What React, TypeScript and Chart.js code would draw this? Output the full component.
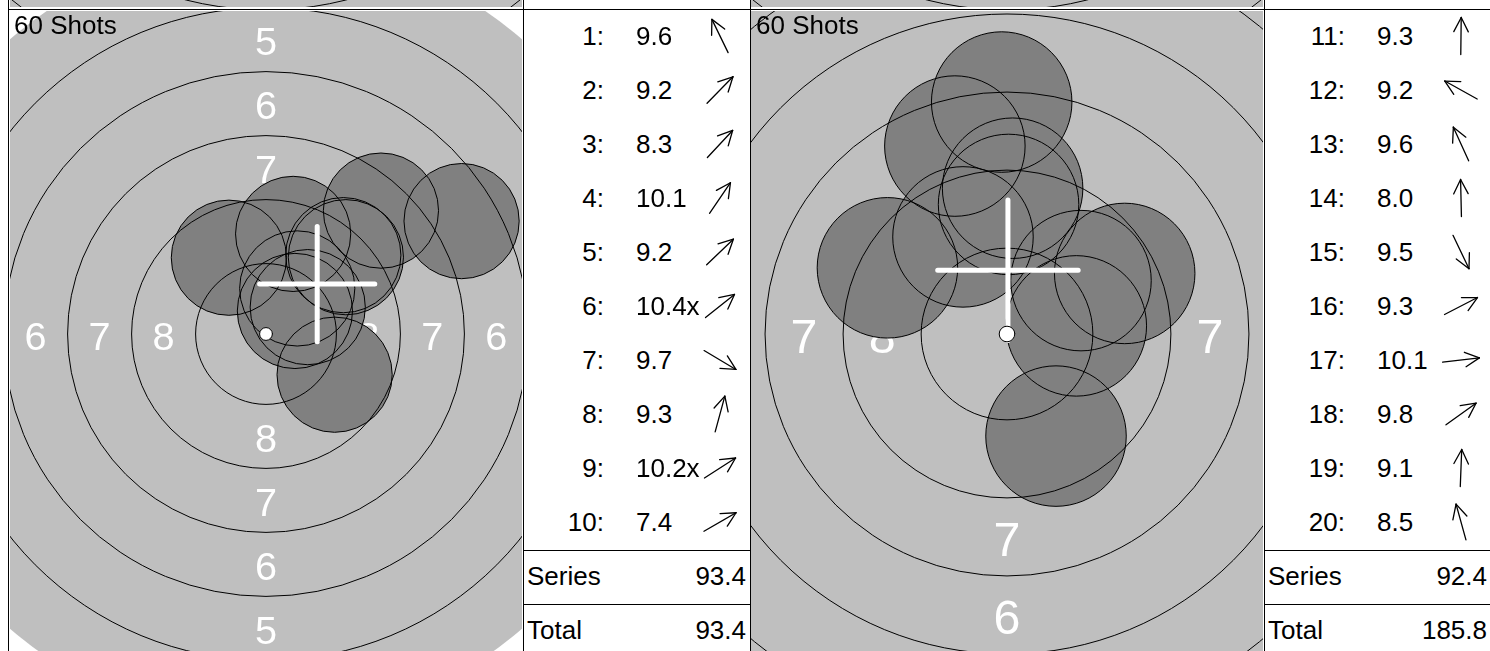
import React, { useEffect, useRef } from "react";
import { Chart, registerables } from "chart.js";

Chart.register(...registerables);

const FONT = '"Liberation Sans", Arial, Helvetica, sans-serif';

// ---- 10 m air rifle target geometry (mm) ----
const ringValues = [1, 2, 3, 4, 5, 6, 7, 8, 9, 10];
const ringRadiiMm = [22.75, 20.25, 17.75, 15.25, 12.75, 10.25, 7.75, 5.25, 2.75, 0.25];
const ringLineValues = [1, 2, 3, 5, 6, 7, 8, 9];
const ringLabelValues = [4, 5, 6, 7, 8];
const aimingBlackRing = 4;
const caliberMm = 4.5;
const labelSizeMm = 1.55;
const shotCountLabel = "60 Shots";

// ---- series 1 (shots 1-10) ----
const shotNo1 = [1, 2, 3, 4, 5, 6, 7, 8, 9, 10];
const shotScore1 = ["9.6", "9.2", "8.3", "10.1", "9.2", "10.4x", "9.7", "9.3", "10.2x", "7.4"];
const shotX1 = [-1.45, 3.02, 4.49, 1.22, 3.12, 1.13, 2.68, 1.06, 1.63, 7.64];
const shotY1 = [2.98, 3.08, 4.82, 1.78, 3.0, 0.9, -1.59, 3.91, 1.05, 4.41];
const groupX1 = 2.0;
const groupY1 = 1.95;
const zoomHalfWidth1 = 10.0;
const seriesScore1 = "93.4";
const totalScore1 = "93.4";

// ---- series 2 (shots 11-20) ----
const shotNo2 = [11, 12, 13, 14, 15, 16, 17, 18, 19, 20];
const shotScore2 = ["9.3", "9.2", "9.6", "8.0", "9.5", "9.3", "10.1", "9.8", "9.1", "8.5"];
const shotX2 = [0.05, -3.83, -1.41, -0.17, 1.57, 3.77, 2.22, 2.37, 0.18, -1.67];
const shotY2 = [4.15, 2.12, 3.11, 7.43, -3.27, 1.94, 0.26, 1.71, 4.67, 6.02];
const groupX2 = 0.03;
const groupY2 = 2.04;
const zoomHalfWidth2 = 8.2;
const seriesScore2 = "92.4";
const totalScore2 = "185.8";

// ---- previous row (only its bottom edge is visible) ----
const prevZoomHalfWidth = 8.05;
const prevShotX: number[] = [];
const prevShotY: number[] = [];

const radiusOf = (v: number) => ringRadiiMm[ringValues.indexOf(v)];

const targetPlugin: any = {
  id: "target",
  beforeDatasetsDraw(chart: any) {
    const { ctx, chartArea: a, scales } = chart;
    const sx = scales.x;
    const sy = scales.y;
    const cx = sx.getPixelForValue(0);
    const cy = sy.getPixelForValue(0);
    const k = sx.getPixelForValue(1) - cx;
    ctx.save();
    ctx.beginPath();
    ctx.rect(a.left, a.top, a.right - a.left, a.bottom - a.top);
    ctx.clip();
    ctx.fillStyle = "#ffffff";
    ctx.fillRect(a.left, a.top, a.right - a.left, a.bottom - a.top);
    ctx.fillStyle = "#bfbfbf";
    ctx.beginPath();
    ctx.arc(cx, cy, radiusOf(aimingBlackRing) * k, 0, Math.PI * 2);
    ctx.fill();
    const fs = labelSizeMm * k;
    ctx.font = `${fs}px ${FONT}`;
    ctx.fillStyle = "#ffffff";
    ctx.textAlign = "center";
    ctx.textBaseline = "alphabetic";
    const off = 0.358 * fs + 1.5;
    for (const v of ringLabelValues) {
      const r = ((radiusOf(v) + radiusOf(v + 1)) / 2) * k;
      const spots = [
        [0, -r],
        [0, r],
        [-r, 0],
        [r, 0],
      ];
      for (const [dx, dy] of spots) ctx.fillText(String(v), cx + dx, cy + dy + off);
    }
    ctx.restore();
  },
  beforeDatasetDraw(chart: any, args: any) {
    if (args.index !== 0) return;
    const { ctx, chartArea: a, scales } = chart;
    const cx = scales.x.getPixelForValue(0);
    const cy = scales.y.getPixelForValue(0);
    const k = scales.x.getPixelForValue(1) - cx;
    ctx.save();
    ctx.beginPath();
    ctx.rect(a.left, a.top, a.right - a.left, a.bottom - a.top);
    ctx.clip();
    ctx.strokeStyle = "#000000";
    ctx.lineWidth = 1;
    for (const v of ringLineValues) {
      ctx.beginPath();
      ctx.arc(cx, cy, radiusOf(v) * k, 0, Math.PI * 2);
      ctx.stroke();
    }
    ctx.restore();
  },
  afterDatasetsDraw(chart: any, _args: any, opts: any) {
    const { ctx, chartArea: a, scales } = chart;
    const sx = scales.x;
    const sy = scales.y;
    const cx = sx.getPixelForValue(0);
    const cy = sy.getPixelForValue(0);
    const k = sx.getPixelForValue(1) - cx;
    ctx.save();
    ctx.beginPath();
    ctx.rect(a.left, a.top, a.right - a.left, a.bottom - a.top);
    ctx.clip();
    if (opts && opts.groupX != null && opts.groupY != null) {
      const gx = sx.getPixelForValue(opts.groupX);
      const gy = sy.getPixelForValue(opts.groupY);
      const arm = (caliberMm / 2) * k;
      ctx.strokeStyle = "#ffffff";
      ctx.lineWidth = 5;
      ctx.lineCap = "round";
      ctx.beginPath();
      ctx.moveTo(gx - arm, gy);
      ctx.lineTo(gx + arm, gy);
      ctx.moveTo(gx, gy - arm);
      ctx.lineTo(gx, gy + arm);
      ctx.stroke();
    }
    ctx.fillStyle = "#ffffff";
    ctx.strokeStyle = "#000000";
    ctx.lineWidth = 1;
    ctx.beginPath();
    ctx.arc(cx, cy, radiusOf(10) * k, 0, Math.PI * 2);
    ctx.fill();
    ctx.stroke();
    ctx.restore();
  },
};

type TargetProps = {
  left: number;
  top: number;
  width: number;
  height: number;
  halfWidth: number;
  xs: number[];
  ys: number[];
  groupX?: number | null;
  groupY?: number | null;
};

function TargetChart(p: TargetProps) {
  const ref = useRef<HTMLCanvasElement | null>(null);
  useEffect(() => {
    const canvas = ref.current;
    if (!canvas) return;
    const halfHeight = (p.halfWidth * p.height) / p.width;
    const pts = p.xs.map((x, i) => ({ x, y: p.ys[i] }));
    const shotRadius = (c: any) => {
      const s = c.chart && c.chart.scales ? c.chart.scales.x : null;
      if (!s) return 0;
      return Math.abs(s.getPixelForValue(caliberMm / 2) - s.getPixelForValue(0));
    };
    const chart = new Chart(canvas, {
      type: "scatter",
      data: {
        datasets: [
          {
            label: "Shot outline",
            data: pts,
            pointRadius: shotRadius,
            pointHoverRadius: shotRadius,
            backgroundColor: "rgba(0,0,0,0)",
            borderColor: "#000000",
            pointBackgroundColor: "rgba(0,0,0,0)",
            pointBorderColor: "#000000",
            pointBorderWidth: 1,
            pointHoverBorderWidth: 1,
          },
          {
            label: "Shot",
            data: pts,
            pointRadius: shotRadius,
            pointHoverRadius: shotRadius,
            backgroundColor: "#808080",
            borderColor: "rgba(0,0,0,0)",
            pointBackgroundColor: "#808080",
            pointBorderColor: "rgba(0,0,0,0)",
            pointBorderWidth: 0,
            pointHoverBorderWidth: 0,
          },
        ],
      } as any,
      options: {
        responsive: false,
        maintainAspectRatio: false,
        animation: false,
        events: [],
        layout: { padding: 0 },
        scales: {
          x: { type: "linear", min: -p.halfWidth, max: p.halfWidth, display: false },
          y: { type: "linear", min: -halfHeight, max: halfHeight, display: false },
        },
        plugins: {
          legend: { display: false },
          tooltip: { enabled: false },
          target: { groupX: p.groupX, groupY: p.groupY },
        } as any,
      } as any,
      plugins: [targetPlugin],
    });
    return () => chart.destroy();
  }, []);
  return (
    <canvas
      ref={ref}
      width={p.width}
      height={p.height}
      style={{ position: "absolute", left: p.left, top: p.top, width: p.width, height: p.height, display: "block" }}
    />
  );
}

const ROW_H = 54;
const TABLE_TOP = 10;

function Arrow({ cx, cy, x, y }: { cx: number; cy: number; x: number; y: number }) {
  const ang = Math.atan2(y, x);
  const dx = Math.cos(ang);
  const dy = -Math.sin(ang);
  const L = 37;
  const c = 24;
  const tx = c + (dx * L) / 2;
  const ty = c + (dy * L) / 2;
  const sx = c - (dx * L) / 2;
  const sy = c - (dy * L) / 2;
  const head = 16;
  const spread = (27 * Math.PI) / 180;
  const b = (s: number) => {
    const a2 = Math.atan2(-dy, -dx) + s;
    return [tx + Math.cos(a2) * head, ty + Math.sin(a2) * head];
  };
  const [b1x, b1y] = b(spread);
  const [b2x, b2y] = b(-spread);
  return (
    <svg
      width={48}
      height={48}
      style={{ position: "absolute", left: cx - c, top: cy - c, overflow: "visible" }}
    >
      <g stroke="#000" strokeWidth={1.3} fill="none" strokeLinecap="round">
        <line x1={sx} y1={sy} x2={tx} y2={ty} />
        <line x1={b1x} y1={b1y} x2={tx} y2={ty} />
        <line x1={b2x} y1={b2y} x2={tx} y2={ty} />
      </g>
    </svg>
  );
}

const textBase: React.CSSProperties = {
  position: "absolute",
  fontFamily: FONT,
  fontSize: 26,
  color: "#000",
  whiteSpace: "nowrap",
  height: ROW_H,
  lineHeight: ROW_H + "px",
};

function ScoreTable(props: {
  left: number;
  nums: number[];
  scores: string[];
  xs: number[];
  ys: number[];
  series: string;
  total: string;
}) {
  const { left, nums, scores, xs, ys, series, total } = props;
  const sumTop = TABLE_TOP + nums.length * ROW_H;
  return (
    <>
      {nums.map((n, i) => {
        const top = TABLE_TOP + i * ROW_H;
        return (
          <React.Fragment key={n}>
            <div style={{ ...textBase, left, top: top - 1, width: 81, textAlign: "right" }}>{n}:</div>
            <div style={{ ...textBase, left: left + 113, top: top - 1 }}>{scores[i]}</div>
            <Arrow cx={left + 196.5} cy={top + ROW_H / 2 - 1} x={xs[i]} y={ys[i]} />
          </React.Fragment>
        );
      })}
      <div style={{ position: "absolute", left, top: sumTop, width: 227, height: 1, background: "#000" }} />
      <div style={{ position: "absolute", left, top: sumTop + ROW_H, width: 227, height: 1, background: "#000" }} />
      <div style={{ ...textBase, left: left + 4, top: sumTop - 1 }}>Series</div>
      <div style={{ ...textBase, left, top: sumTop - 1, width: 223, textAlign: "right" }}>{series}</div>
      <div style={{ ...textBase, left: left + 4, top: sumTop + ROW_H - 1 }}>Total</div>
      <div style={{ ...textBase, left, top: sumTop + ROW_H - 1, width: 223, textAlign: "right" }}>{total}</div>
    </>
  );
}

export default function App() {
  const W = 512;
  const H = 646;
  const vline = (x: number) => (
    <div style={{ position: "absolute", left: x, top: 0, width: 1, height: 651, background: "#000" }} />
  );
  const label = (x: number) => (
    <div
      style={{
        position: "absolute",
        left: x,
        top: 12,
        fontFamily: FONT,
        fontSize: 26,
        lineHeight: "26px",
        color: "#000",
        whiteSpace: "nowrap",
      }}
    >
      {shotCountLabel}
    </div>
  );
  return (
    <div
      style={{
        position: "absolute",
        left: 0,
        top: 0,
        width: 1490,
        height: 651,
        overflow: "hidden",
        background: "#fff",
      }}
    >
      <TargetChart left={10} top={-639} width={W} height={H} halfWidth={prevZoomHalfWidth} xs={prevShotX} ys={prevShotY} />
      <TargetChart left={751} top={-639} width={W} height={H} halfWidth={prevZoomHalfWidth} xs={prevShotX} ys={prevShotY} />
      <TargetChart left={10} top={11} width={W} height={H} halfWidth={zoomHalfWidth1} xs={shotX1} ys={shotY1} groupX={groupX1} groupY={groupY1} />
      <TargetChart left={751} top={11} width={W} height={H} halfWidth={zoomHalfWidth2} xs={shotX2} ys={shotY2} groupX={groupX2} groupY={groupY2} />
      {label(14)}
      {label(756)}
      <ScoreTable left={523} nums={shotNo1} scores={shotScore1} xs={shotX1} ys={shotY1} series={seriesScore1} total={totalScore1} />
      <ScoreTable left={1264} nums={shotNo2} scores={shotScore2} xs={shotX2} ys={shotY2} series={seriesScore2} total={totalScore2} />
      <div style={{ position: "absolute", left: 8, top: 9, width: 1482, height: 1, background: "#000" }} />
      {vline(8)}
      {vline(523)}
      {vline(750)}
      {vline(1264)}
    </div>
  );
}
